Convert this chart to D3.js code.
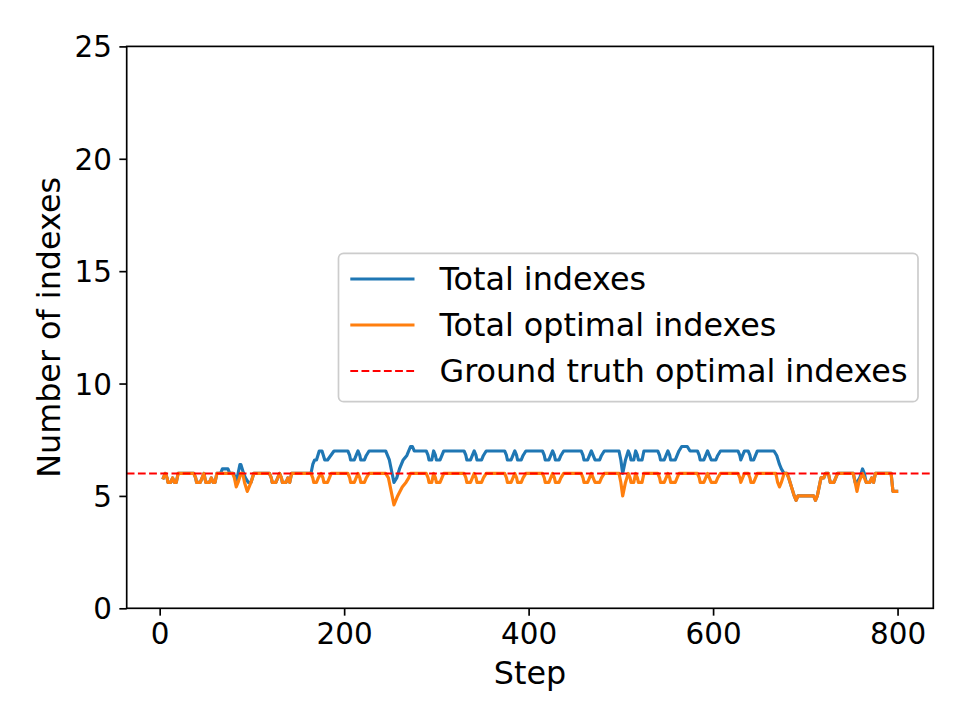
<!DOCTYPE html>
<html>
<head>
<meta charset="utf-8">
<script src="https://cdn.jsdelivr.net/npm/d3@7"></script>
<style>
  body { margin: 0; background: #fff; }
  #my_dataviz { width: 968px; height: 726px; }
  text { font-family: "DejaVu Sans", sans-serif; }
</style>
</head>
<body>
<div id="my_dataviz"></div>
<script>
// [step, value] (rolling mean of index counts)
var totalIndexes = [
  [4,5.8],[6,6.0],[8,5.8],[9,5.6],[12,5.6],[14,5.8],[16,5.6],[18,5.6],[20,6.0],
  [37,6.0],[39,5.8],[40,5.6],[44,5.6],[46,5.8],[48,6.0],[50,5.6],[54,5.6],[56,5.8],[58,5.6],[60,5.6],[62,6.0],
  [66,6.0],[68,6.2],[74,6.2],[76,6.0],[80,6.0],[82,5.8],[83,5.6],[85,6.0],[87,6.4],[88,6.4],[91,6.0],[93,5.8],[96,5.6],[99,5.6],[102,6.0],
  [119,6.0],[121,5.8],[122,5.6],[126,5.6],[128,5.8],[130,6.0],[132,5.8],[133,5.6],[137,5.6],[139,5.8],[141,5.6],[143,6.0],
  [164,6.0],[166,6.4],[168,6.6],[170,6.6],[173,7.0],[176,7.0],[179,6.6],[182,6.6],[189,7.0],
  [204,7.0],[206,6.8],[207,6.6],[211,6.6],[213,6.8],[215,7.0],[217,6.8],[218,6.6],[222,6.6],[224,6.8],[227,7.0],
  [245,7.0],[249,6.6],[252,6.0],[254,5.6],[257,5.8],[260,6.2],[264,6.6],[268,6.8],[272,7.2],[274,7.2],[276,7.0],
  [289,7.0],[291,6.8],[292,6.6],[295,6.6],[297,7.0],[299,6.8],[300,6.6],[304,6.6],[306,6.8],[308,7.0],
  [330,7.0],[332,6.8],[333,6.6],[337,6.6],[339,6.8],[341,7.0],[343,6.8],[344,6.6],[349,6.6],[351,6.8],[354,7.0],
  [374,7.0],[376,6.8],[377,6.6],[381,6.6],[383,6.8],[385,7.0],[387,6.8],[388,6.6],[392,6.6],[394,6.8],[397,7.0],
  [415,7.0],[417,6.8],[418,6.6],[422,6.6],[424,6.8],[426,7.0],[428,6.8],[429,6.6],[433,6.6],[435,6.8],[438,7.0],
  [457,7.0],[459,6.8],[460,6.6],[464,6.6],[466,6.8],[468,7.0],[470,6.8],[472,6.6],[477,6.6],[479,6.8],[482,7.0],
  [498,7.0],[500,6.6],[502,6.0],[505,6.6],[508,7.0],[510,6.8],[511,6.6],[514,6.6],[516,7.0],[518,6.8],[519,6.6],[523,6.6],[525,7.0],
  [540,7.0],[542,6.8],[543,6.6],[547,6.6],[549,6.8],[551,7.0],[553,6.8],[554,6.6],[559,6.6],[561,6.8],[563,7.0],
  [566,7.2],[572,7.2],[575,7.0],
  [583,7.0],[585,6.8],[586,6.6],[590,6.6],[592,6.8],[594,7.0],[596,6.8],[598,6.6],[603,6.6],[605,6.8],[608,7.0],
  [627,7.0],[629,6.8],[630,6.6],[632,6.8],[634,7.0],[638,7.0],[640,6.8],[641,6.6],[644,6.6],[646,6.8],[648,7.0],
  [666,7.0],[669,6.8],[672,6.4],[674,6.2],[677,6.0],[680,6.0],[682,5.8],[685,5.4],[688,5.0],[690,4.8],[692,5.0],
  [709,5.0],[711,4.8],[713,5.0],[715,5.4],[717,5.8],[720,5.8],[722,6.0],[725,6.0],[727,5.6],[731,5.6],[733,5.8],[735,6.0],
  [752,6.0],[754,5.6],[756,5.6],[759,5.8],[762,6.2],[764,6.0],[766,5.6],[770,5.6],[772,5.8],[774,5.6],[776,6.0],
  [793,6.0],[795,5.2],[799,5.2]
];
var optimalIndexes = [
  [4,5.8],[6,6.0],[8,5.8],[9,5.6],[12,5.6],[14,5.8],[16,5.6],[18,5.6],[20,6.0],
  [37,6.0],[39,5.8],[40,5.6],[44,5.6],[46,5.8],[48,6.0],[50,5.6],[54,5.6],[56,5.8],[58,5.6],[60,5.6],[62,6.0],
  [79,6.0],[81,5.8],[83,5.4],[85,5.6],[88,6.0],[90,6.0],[92,5.6],[95,5.2],[97,5.4],[99,5.6],[102,6.0],
  [119,6.0],[121,5.8],[122,5.6],[126,5.6],[128,5.8],[130,6.0],[132,5.8],[133,5.6],[137,5.6],[139,5.8],[141,5.6],[143,6.0],
  [164,6.0],[166,5.8],[167,5.6],[170,5.6],[172,5.8],[175,6.0],[177,5.8],[178,5.6],[182,5.6],[184,5.8],[186,6.0],
  [204,6.0],[206,5.8],[207,5.6],[211,5.6],[213,5.8],[215,6.0],[217,5.8],[218,5.6],[222,5.6],[224,5.8],[227,6.0],
  [245,6.0],[248,5.8],[250,5.4],[252,5.0],[254,4.6],[258,5.0],[263,5.4],[267,5.6],[270,5.8],[272,6.0],
  [289,6.0],[291,5.8],[292,5.6],[295,5.6],[297,6.0],[299,5.8],[300,5.6],[304,5.6],[306,5.8],[308,6.0],
  [330,6.0],[332,5.8],[333,5.6],[337,5.6],[339,5.8],[341,6.0],[343,5.8],[344,5.6],[349,5.6],[351,5.8],[354,6.0],
  [374,6.0],[376,5.8],[377,5.6],[381,5.6],[383,5.8],[385,6.0],[387,5.8],[388,5.6],[392,5.6],[394,5.8],[397,6.0],
  [415,6.0],[417,5.8],[418,5.6],[422,5.6],[424,5.8],[426,6.0],[428,5.8],[429,5.6],[433,5.6],[435,5.8],[438,6.0],
  [457,6.0],[459,5.8],[460,5.6],[464,5.6],[466,5.8],[468,6.0],[470,5.8],[472,5.6],[477,5.6],[479,5.8],[482,6.0],
  [498,6.0],[500,5.6],[502,5.0],[505,5.6],[508,6.0],[510,5.8],[511,5.6],[514,5.6],[516,6.0],[518,5.8],[519,5.6],[523,5.6],[525,6.0],
  [540,6.0],[542,5.8],[543,5.6],[547,5.6],[549,5.8],[551,6.0],[553,5.8],[554,5.6],[559,5.6],[561,5.8],[563,6.0],
  [583,6.0],[585,5.8],[586,5.6],[590,5.6],[592,5.8],[594,6.0],[596,5.8],[598,5.6],[603,5.6],[605,5.8],[608,6.0],
  [627,6.0],[629,5.8],[630,5.6],[632,5.8],[634,6.0],[638,6.0],[640,5.8],[641,5.6],[644,5.6],[646,5.8],[648,6.0],
  [668,6.0],[670,5.6],[672,5.4],[674,5.6],[677,6.0],[680,6.0],[682,5.8],[685,5.4],[688,5.0],[690,4.8],[692,5.0],
  [709,5.0],[711,4.8],[713,5.0],[715,5.4],[717,5.8],[720,5.8],[722,6.0],[725,6.0],[727,5.6],[731,5.6],[733,5.8],[735,6.0],
  [752,6.0],[754,5.6],[756,5.2],[758,5.6],[760,5.8],[762,6.0],[764,5.8],[766,5.6],[770,5.6],[772,5.8],[774,5.6],[776,6.0],
  [793,6.0],[795,5.2],[799,5.2]
];
var groundTruth = 6;
var xTicks = [0, 200, 400, 600, 800];
var yTicks = [0, 5, 10, 15, 20, 25];
var seriesNames = ["Total indexes", "Total optimal indexes", "Ground truth optimal indexes"];
var seriesColors = ["#1f77b4", "#ff7f0e", "#ff0000"];

var margin = {top: 46.4, right: 34.7, bottom: 117.7, left: 126.7};
var width = 968 - margin.left - margin.right;
var height = 726 - margin.top - margin.bottom;
var tickPx = 29.4;
var labelPx = 31.8;

var svg = d3.select("#my_dataviz")
  .append("svg")
    .attr("width", 968)
    .attr("height", 726)
  .append("g")
    .attr("transform", "translate(" + margin.left + "," + margin.top + ")");

var x = d3.scaleLinear().domain([-35.75, 838.75]).range([0, width]);
var y = d3.scaleLinear().domain([0, 25]).range([height, 0]);

var line = d3.line()
  .x(function(d){ return x(d[0]); })
  .y(function(d){ return y(d[1]); });

// series
[totalIndexes, optimalIndexes].forEach(function(s, i){
  svg.append("path")
    .datum(s)
    .attr("d", line)
    .attr("fill", "none")
    .attr("stroke", seriesColors[i])
    .attr("stroke-width", 3.15)
    .attr("stroke-linejoin", "round")
    .attr("stroke-linecap", "square");
});

// ground truth
svg.append("line")
  .attr("x1", 0).attr("x2", width)
  .attr("y1", y(groundTruth)).attr("y2", y(groundTruth))
  .attr("stroke", seriesColors[2])
  .attr("stroke-width", 2.1)
  .attr("stroke-dasharray", "7.8,3.4");

// axes
var xAxis = svg.append("g")
  .attr("transform", "translate(0," + height + ")")
  .call(d3.axisBottom(x).tickValues(xTicks).tickSize(7.35).tickSizeOuter(0).tickPadding(7.35));
var yAxis = svg.append("g")
  .call(d3.axisLeft(y).tickValues(yTicks).tickSize(7.35).tickSizeOuter(0).tickPadding(7.35));
[xAxis, yAxis].forEach(function(a){
  a.select(".domain").remove();
  a.selectAll(".tick line").attr("stroke", "#000").attr("stroke-width", 1.68);
  a.selectAll(".tick text")
    .style("font-family", "DejaVu Sans")
    .style("font-size", tickPx + "px")
    .attr("fill", "#000");
});
yAxis.selectAll(".tick text").attr("dy", "0.36em");

// frame
svg.append("rect")
  .attr("width", width).attr("height", height)
  .attr("fill", "none")
  .attr("stroke", "#000")
  .attr("stroke-width", 1.68);

// axis labels
svg.append("text")
  .attr("x", width / 2)
  .attr("y", 684 - margin.top)
  .attr("text-anchor", "middle")
  .style("font-size", labelPx + "px")
  .text("Step");
svg.append("text")
  .attr("transform", "translate(" + (60 - margin.left) + "," + (height / 2) + ") rotate(-90)")
  .attr("text-anchor", "middle")
  .style("font-size", labelPx + "px")
  .text("Number of indexes");

// legend
var legend = svg.append("g")
  .attr("transform", "translate(" + (338.5 - margin.left) + "," + (253.3 - margin.top) + ")");
legend.append("rect")
  .attr("width", 579.5).attr("height", 148.4)
  .attr("rx", 5).attr("ry", 5)
  .attr("fill", "#fff").attr("fill-opacity", 0.8)
  .attr("stroke", "#cccccc").attr("stroke-width", 1.68);
seriesNames.forEach(function(name, i){
  var cy = 25.7 + i * 46;
  legend.append("line")
    .attr("x1", 11.8).attr("x2", 76)
    .attr("y1", cy).attr("y2", cy)
    .attr("stroke", seriesColors[i])
    .attr("stroke-width", i == 2 ? 2.1 : 3.15)
    .attr("stroke-dasharray", i == 2 ? "7.8,3.4" : null);
  legend.append("text")
    .attr("x", 101)
    .attr("y", cy + 11)
    .style("font-size", labelPx + "px")
    .text(name);
});
</script>
</body>
</html>
